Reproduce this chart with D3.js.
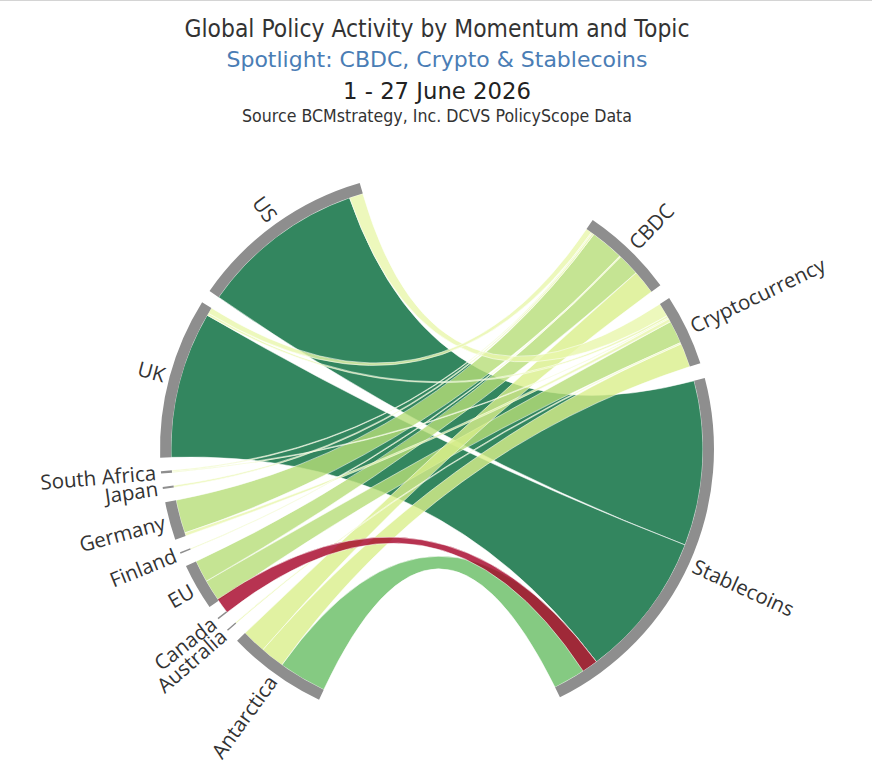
<!DOCTYPE html>
<html>
<head>
<meta charset="utf-8">
<script src="https://cdn.jsdelivr.net/npm/d3@7"></script>
<style>
  html, body { margin: 0; padding: 0; background: #fff; }
  svg { display: block; }
</style>
</head>
<body>
<svg id="chart" width="872" height="766"></svg>
<script>
// ---------------- DATA ----------------
const titleText = "Global Policy Activity by Momentum and Topic";
const subtitleText = "Spotlight: CBDC, Crypto & Stablecoins";
const dateText = "1 - 27 June 2026";
const sourceText = "Source BCMstrategy, Inc. DCVS PolicyScope Data";

// jurisdictions (clockwise from the bottom-left) and topics (clockwise from top-right)
const countries = ["Antarctica", "Australia", "Canada", "EU", "Finland", "Germany", "Japan", "South Africa", "UK", "US"];
const topics = ["CBDC", "Cryptocurrency", "Stablecoins"];

// links: jurisdiction -> topic, activity volume (negative = net negative momentum) and momentum class
const linkSources = ["US", "UK", "Antarctica", "Germany", "EU", "EU", "Antarctica", "Antarctica",
                     "US", "UK", "UK", "South Africa", "South Africa", "Japan", "Germany", "Finland", "Australia", "Canada"];
const linkTargets = ["Stablecoins", "Stablecoins", "Stablecoins", "CBDC", "Cryptocurrency", "CBDC", "Cryptocurrency", "CBDC",
                     "Cryptocurrency", "Cryptocurrency", "CBDC", "Cryptocurrency", "CBDC", "CBDC", "Cryptocurrency", "CBDC", "Cryptocurrency", "Stablecoins"];
const linkValues  = [72, 64, 21, 14.6, 10, 9.6, 10.5, 10.5,
                     6, 1, 2.6, 0.5, 0.5, 0.8, 1.4, 0.5, 0.6, -7];
const linkMomentum = ["strong", "strong", "moderate", "positive", "positive", "positive", "mild", "mild",
                      "neutral", "neutral", "neutral", "neutral", "neutral", "neutral", "neutral", "neutral", "neutral", "negative"];

const momentumClasses = ["strong", "moderate", "positive", "mild", "neutral", "negative"];
const momentumColors  = ["#006837", "#66bd63", "#b6dd78", "#d9ef8b", "#e9f6ab", "#a50026"];

// ---------------- LAYOUT ----------------
const W = 872, H = 766;
const cx = 437, cy = 449;
const rIn = 266, rOut = 277;
const deg = Math.PI / 180;
const unitAngle = 0.5 * deg;    // angle per unit of activity
const countryPad = 2.8 * deg;
const topicPad = 3.2 * deg;
const minNode = 0.6;            // minimal node footprint (units)
const countryStart = 205.2 * deg;
const topicStart = 34.2 * deg;

const svg = d3.select("#chart");
svg.append("line").attr("x1", 0).attr("x2", W).attr("y1", 0.5).attr("y2", 0.5)
  .attr("stroke", "#d4d4d4").attr("stroke-width", 1);

// titles
const titleFont = "'DejaVu Sans', Verdana, sans-serif";
const tg = svg.append("g").attr("text-anchor", "middle").style("font-family", titleFont);
tg.append("text").attr("x", cx).attr("y", 37).attr("font-size", 24.5).attr("fill", "#333333")
  .attr("textLength", 505).attr("lengthAdjust", "spacingAndGlyphs").text(titleText);
tg.append("text").attr("x", cx).attr("y", 67).attr("font-size", 21).attr("fill", "#4a7db5")
  .attr("textLength", 421).attr("lengthAdjust", "spacingAndGlyphs").text(subtitleText);
tg.append("text").attr("x", cx).attr("y", 99).attr("font-size", 23.5).attr("fill", "#222222")
  .attr("textLength", 188).attr("lengthAdjust", "spacingAndGlyphs").text(dateText);
tg.append("text").attr("x", cx).attr("y", 122).attr("font-size", 17.5).attr("fill", "#333333")
  .attr("textLength", 390).attr("lengthAdjust", "spacingAndGlyphs").text(sourceText);

const color = d3.scaleOrdinal().domain(momentumClasses).range(momentumColors);

const links = linkSources.map((s, i) => ({
  source: s, target: linkTargets[i], value: linkValues[i], momentum: linkMomentum[i], idx: i
}));

function layoutSide(names, start, pad, otherNames, key, otherKey) {
  const nodes = [];
  let a = start;
  names.forEach(name => {
    const own = links.filter(l => l[key] === name);
    const pos = d3.sum(own, l => Math.max(l.value, 0));
    const foot = Math.max(pos, minNode);
    const node = { name, start: a, end: a + foot * unitAngle, net: d3.sum(own, l => l.value) };
    // order inside node: partner further along the other side comes first
    own.sort((p, q) => otherNames.indexOf(q[otherKey]) - otherNames.indexOf(p[otherKey]));
    let off = a;
    own.forEach(l => {
      const w = Math.abs(l.value) * unitAngle;
      l[key + "Arc"] = { startAngle: off, endAngle: off + w };
      off += Math.max(l.value, 0) * unitAngle;
    });
    nodes.push(node);
    a = node.end + pad;
  });
  return nodes;
}

const countryNodes = layoutSide(countries, countryStart, countryPad, topics, "source", "target");
const topicNodes = layoutSide(topics, topicStart, topicPad, countries, "target", "source");

const g = svg.append("g").attr("transform", `translate(${cx},${cy})`);

// ribbons
const ribbon = d3.ribbon().radius(rIn);
g.append("g").selectAll("path").data(links).join("path")
  .attr("d", l => ribbon({ source: l.sourceArc, target: l.targetArc }))
  .attr("fill", l => color(l.momentum))
  .attr("fill-opacity", 0.8)
  .attr("stroke", "#ffffff")
  .attr("stroke-width", 0.6)
  .attr("stroke-opacity", 0.9);

// node bars
const arc = d3.arc().innerRadius(rIn).outerRadius(rOut);
const allNodes = countryNodes.concat(topicNodes);
g.append("g").selectAll("path").data(allNodes).join("path")
  .attr("d", n => {
    const end = n.net > 0 ? n.end : n.start + minNode * unitAngle;
    return arc({ startAngle: n.start, endAngle: end });
  })
  .attr("fill", "#8e8e8e");

// labels
g.append("g").selectAll("text").data(allNodes).join("text")
  .each(function (n) {
    const mid = (n.net > 0 ? (n.start + n.end) / 2 : n.start + minNode * unitAngle / 2);
    const left = mid > Math.PI;
    d3.select(this)
      .attr("transform", `rotate(${mid / deg - 90}) translate(${rOut + 5},0)` + (left ? " rotate(180)" : ""))
      .attr("text-anchor", left ? "end" : "start")
      .attr("dy", "0.35em");
  })
  .style("font-family", "'Open Sans', sans-serif")
  .attr("font-size", 20.5)
  .attr("fill", "#333333")
  .text(n => n.name);
</script>
</body>
</html>
